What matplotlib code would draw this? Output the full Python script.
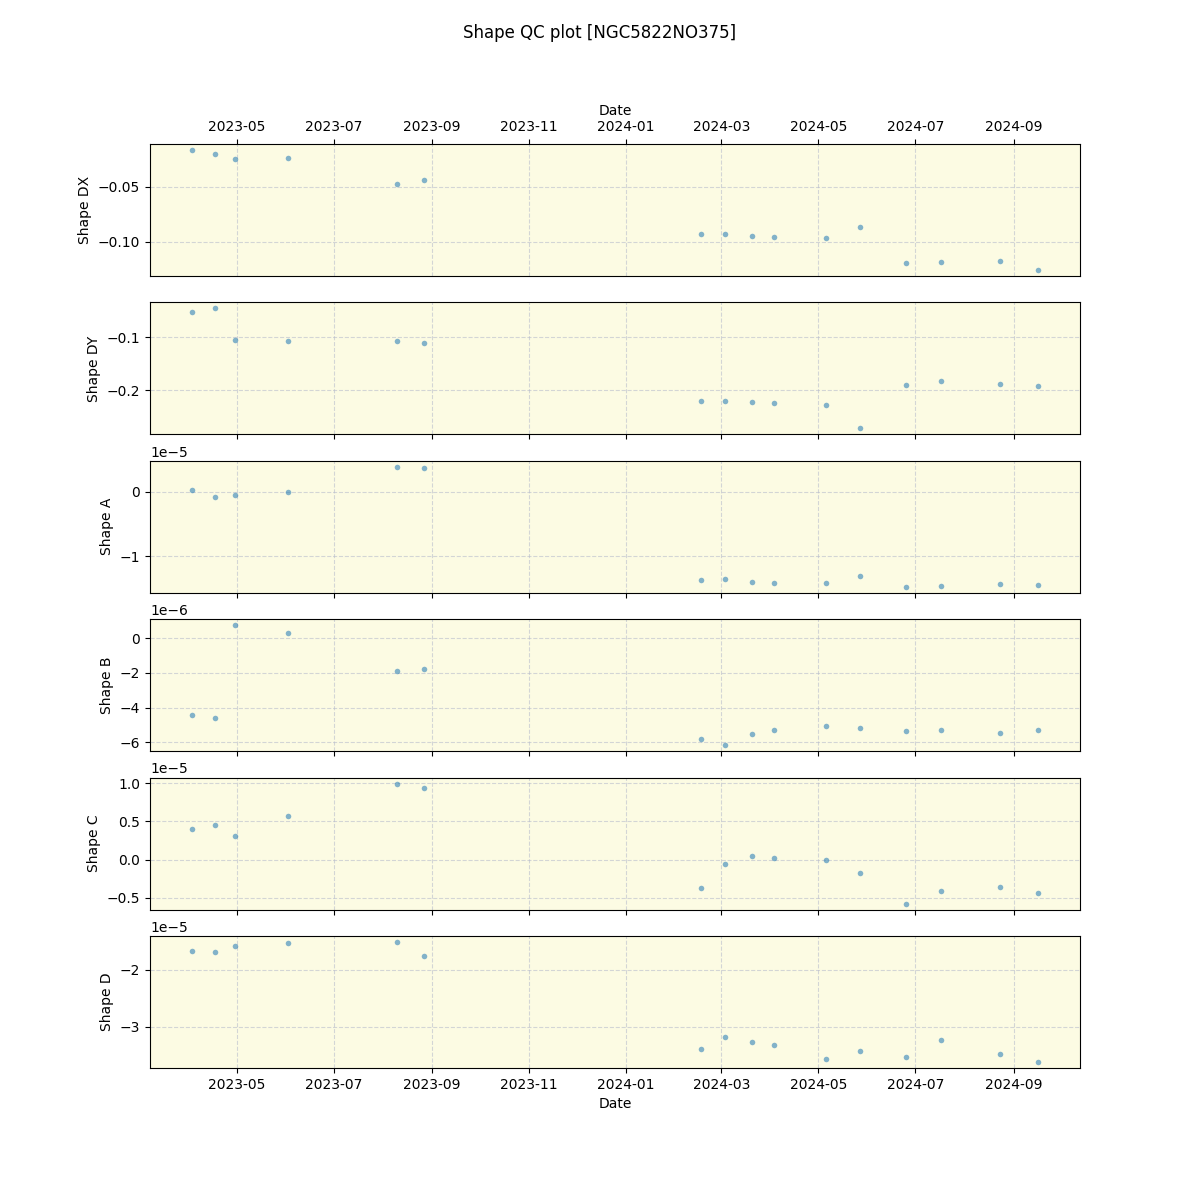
import numpy as np
import pandas as pd
import matplotlib
matplotlib.use("Agg")
import matplotlib.pyplot as plt

# 观测日期
dates = pd.to_datetime([
    "2023-04-03", "2023-04-17", "2023-04-30", "2023-06-02", "2023-08-10", "2023-08-27",
    "2024-02-17", "2024-03-03", "2024-03-20", "2024-04-03", "2024-05-06", "2024-05-27",
    "2024-06-25", "2024-07-17", "2024-08-23", "2024-09-16",
])

shape_dx = [-0.0164, -0.0200, -0.0245, -0.0236, -0.0473, -0.0436,
            -0.0927, -0.0927, -0.0945, -0.0955, -0.0964, -0.0864,
            -0.1190, -0.1182, -0.1173, -0.1255]
shape_dy = [-0.0528, -0.0453, -0.1057, -0.1075, -0.1075, -0.1113,
            -0.2208, -0.2208, -0.2226, -0.2245, -0.2283, -0.2717,
            -0.1906, -0.1830, -0.1887, -0.1925]
shape_a = [0.031e-5, -0.078e-5, -0.047e-5, 0.0, 0.389e-5, 0.373e-5,
           -1.362e-5, -1.346e-5, -1.393e-5, -1.408e-5, -1.408e-5, -1.300e-5,
           -1.470e-5, -1.455e-5, -1.424e-5, -1.439e-5]
shape_b = [-4.44e-6, -4.62e-6, 0.75e-6, 0.29e-6, -1.90e-6, -1.79e-6,
           -5.83e-6, -6.17e-6, -5.54e-6, -5.31e-6, -5.08e-6, -5.19e-6,
           -5.37e-6, -5.31e-6, -5.48e-6, -5.31e-6]
shape_c = [0.406e-5, 0.458e-5, 0.314e-5, 0.576e-5, 0.994e-5, 0.942e-5,
           -0.366e-5, -0.052e-5, 0.052e-5, 0.026e-5, -0.003e-5, -0.170e-5,
           -0.576e-5, -0.406e-5, -0.353e-5, -0.432e-5]
shape_d = [-1.667e-5, -1.684e-5, -1.579e-5, -1.526e-5, -1.509e-5, -1.754e-5,
           -3.386e-5, -3.175e-5, -3.263e-5, -3.316e-5, -3.561e-5, -3.421e-5,
           -3.526e-5, -3.228e-5, -3.474e-5, -3.614e-5]

labels = ["Shape DX", "Shape DY", "Shape A", "Shape B", "Shape C", "Shape D"]
series = [shape_dx, shape_dy, shape_a, shape_b, shape_c, shape_d]

fig, axes = plt.subplots(6, 1, figsize=(12, 12), sharex=True)
fig.suptitle("Shape QC plot [NGC5822NO375]")

for ax, lab, vals in zip(axes, labels, series):
    ax.set_facecolor("#FCFBE3")
    ax.scatter(dates, vals, s=16, color="#1f77b4", alpha=0.55, linewidths=0, zorder=3)
    ax.set_ylabel(lab)
    ax.grid(True, linestyle="--", color="#b8bccc", alpha=0.6)

# 顶部子图：刻度和标签放在上方
axes[0].xaxis.tick_top()
axes[0].xaxis.set_label_position("top")
axes[0].set_xlabel("Date")
axes[0].tick_params(axis="x", labeltop=True)
axes[-1].set_xlabel("Date")

fig.savefig("out.png", dpi=100)
